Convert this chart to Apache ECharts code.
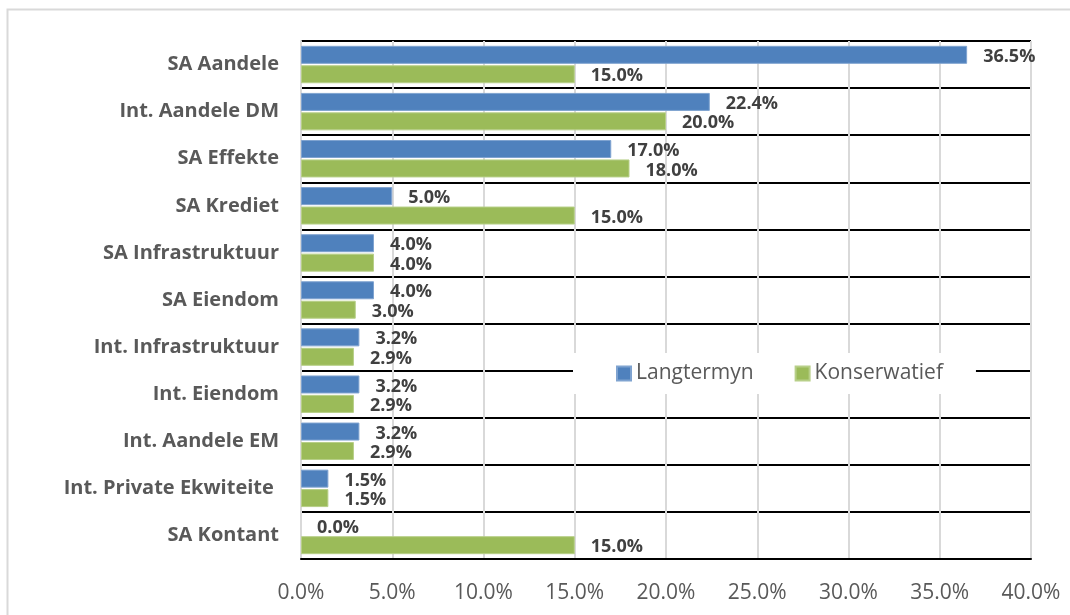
<!DOCTYPE html>
<html>
<head>
<meta charset="utf-8">
<script src="https://cdn.jsdelivr.net/npm/echarts@6/dist/echarts.min.js"></script>
<style>
  html, body { margin: 0; padding: 0; background: #fff; }
  #chart { width: 1070px; height: 615px; }
</style>
</head>
<body>
<div id="chart"></div>
<script>
const categories = [
  "SA Aandele", "Int. Aandele DM", "SA Effekte", "SA Krediet", "SA Infrastruktuur",
  "SA Eiendom", "Int. Infrastruktuur", "Int. Eiendom", "Int. Aandele EM",
  "Int. Private Ekwiteite ", "SA Kontant"
];
const langtermyn = [36.5, 22.4, 17.0, 5.0, 4.0, 4.0, 3.2, 3.2, 3.2, 1.5, 0.0];
const konserwatief = [15.0, 20.0, 18.0, 15.0, 4.0, 3.0, 2.9, 2.9, 2.9, 1.5, 15.0];
const xTicks = { min: 0, max: 40, interval: 5 };

const font = "'Open Sans', sans-serif";
const chart = echarts.init(document.getElementById("chart"));

const labelStyle = {
  show: true,
  position: "right",
  distance: 16,
  offset: [0, 2],
  formatter: (p) => p.value.toFixed(1) + "%",
  color: "#404040",
  fontWeight: "bold",
  fontSize: 18,
  fontFamily: font
};

// no border on zero-length bars
const withBorder = (vals) => vals.map((v) => (v === 0 ? { value: v, itemStyle: { borderWidth: 0 } } : v));

chart.setOption({
  backgroundColor: "#fff",
  animation: false,
  graphic: [{
    type: "rect",
    shape: { x: 7.5, y: 9.5, width: 1080, height: 620 },
    style: { fill: "none", stroke: "#d9d9d9", lineWidth: 2 },
    silent: true,
    z: -10
  }],
  grid: { left: 301, right: 39, top: 41, bottom: 56 },
  legend: {
    left: 573,
    top: 353,
    backgroundColor: "#fff",
    padding: [10, 33, 10, 43],
    itemWidth: 14,
    itemHeight: 14,
    itemGap: 41,
    icon: "rect",
    textStyle: { color: "#595959", fontSize: 21, fontFamily: font },
    z: 10
  },
  xAxis: {
    type: "value",
    min: xTicks.min,
    max: xTicks.max,
    interval: xTicks.interval,
    axisLabel: {
      formatter: (v) => v.toFixed(1) + "%",
      color: "#595959",
      fontSize: 21,
      fontFamily: font,
      margin: 24
    },
    axisLine: { show: true, lineStyle: { color: "#000", width: 2 } },
    axisTick: { show: false },
    splitLine: { show: true, lineStyle: { color: "#d9d9d9", width: 2 } }
  },
  yAxis: {
    type: "category",
    data: categories,
    inverse: true,
    axisLabel: {
      color: "#595959",
      fontSize: 20,
      fontWeight: "bold",
      fontFamily: font,
      margin: 22
    },
    axisLine: { show: true, lineStyle: { color: "#d9d9d9", width: 2 } },
    axisTick: { show: false },
    splitLine: { show: true, lineStyle: { color: "#000", width: 2 } }
  },
  series: [
    {
      name: "Langtermyn",
      type: "bar",
      data: withBorder(langtermyn),
      barWidth: 18,
      barGap: "8%",
      itemStyle: { color: "#4f81bd", borderColor: "#7fa3d0", borderWidth: 1 },
      label: labelStyle
    },
    {
      name: "Konserwatief",
      type: "bar",
      data: withBorder(konserwatief),
      barWidth: 18,
      itemStyle: { color: "#9bbb59", borderColor: "#b7cf88", borderWidth: 1 },
      label: labelStyle
    }
  ]
});
</script>
</body>
</html>
